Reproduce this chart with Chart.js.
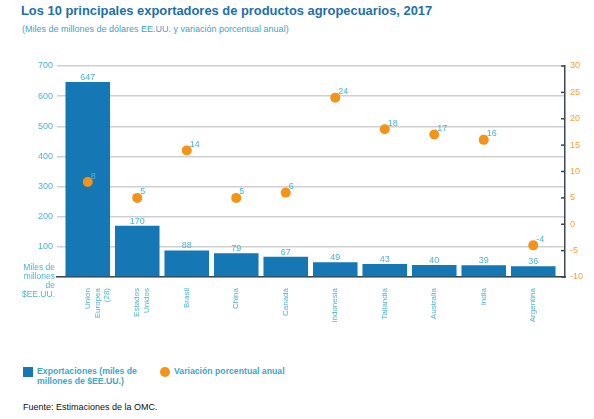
<!DOCTYPE html>
<html>
<head>
<meta charset="utf-8">
<script src="https://cdn.jsdelivr.net/npm/chart.js@4/dist/chart.umd.min.js"></script>
<style>
  body { margin: 0; width: 594px; height: 419px; background: #fff; font-family: "Liberation Sans", Arial, sans-serif; position: relative; overflow: hidden; }
  #title { position: absolute; left: 21px; top: 3px; font-size: 12.9px; font-weight: bold; color: #1b6fae; white-space: nowrap; }
  #sub { position: absolute; left: 22px; top: 24px; font-size: 9px; color: #3ea3c9; white-space: nowrap; }
  #wrap { position: absolute; left: 0; top: 50px; width: 594px; height: 280px; }
  .leg { position: absolute; font-size: 8.7px; font-weight: bold; color: #3aa7cb; line-height: 10px; }
  #src { position: absolute; left: 23px; top: 402px; font-size: 9px; color: #111; }
</style>
</head>
<body>
<div id="title">Los 10 principales exportadores de productos agropecuarios, 2017</div>
<div id="sub">(Miles de millones de dólares EE.UU. y variación porcentual anual)</div>
<div id="wrap"><canvas id="chart"></canvas></div>
<div style="position:absolute;left:23px;top:367px;width:10px;height:10px;background:#1577b4"></div>
<div class="leg" style="left:37px;top:366px">Exportaciones (miles de<br>millones de $EE.UU.)</div>
<div style="position:absolute;left:160px;top:367px;width:10px;height:10px;border-radius:50%;background:#f39419"></div>
<div class="leg" style="left:174px;top:366px">Variación porcentual anual</div>
<div id="src">Fuente: Estimaciones de la OMC.</div>
<script>
// categories and values
var countries = [["Unión", "Europea", "(28)"], ["Estados", "Unidos"], "Brasil", "China", "Canadá", "Indonesia", "Tailandia", "Australia", "India", "Argentina"];
var exports = [647, 170, 88, 79, 67, 49, 43, 40, 39, 36];
var change = [8, 5, 14, 5, 6, 24, 18, 17, 16, -4];
var unitLabel = ["Miles de", "millones", "de", "$EE.UU."];

var blue = '#1577b4';
var orange = '#f39419';
var lightBlue = '#4fb3d3';
var fontFam = '"Liberation Sans", Arial, sans-serif';

// the bars sit a little inside the gridlines on both sides
var insetPlugin = {
    id: 'inset',
    afterLayout: function(chart) {
        var x = chart.scales.x;
        x._startPixel += 6;
        x._endPixel -= 7;
        x._length = x._endPixel - x._startPixel;
    }
};

// value labels, unit label and the little ticks on the right axis
var labelsPlugin = {
    id: 'valueLabels',
    afterDatasetsDraw: function(chart) {
        var c = chart.ctx;
        c.save();
        c.font = '9px ' + fontFam;
        c.fillStyle = lightBlue;
        chart.getDatasetMeta(0).data.forEach(function(bar, i) {
            c.textAlign = 'center';
            c.textBaseline = 'alphabetic';
            c.fillText(exports[i], bar.x, bar.y - 2);
        });
        chart.getDatasetMeta(1).data.forEach(function(pt, i) {
            c.textAlign = 'left';
            c.textBaseline = 'middle';
            c.fillText(change[i], pt.x + 3, pt.y - 6);
        });
        c.font = '8.5px ' + fontFam;
        c.textAlign = 'right';
        c.textBaseline = 'middle';
        unitLabel.forEach(function(s, i) {
            c.fillText(s, 55, chart.chartArea.bottom - 9 + i * 9);
        });
        var r = chart.scales.y1;
        c.strokeStyle = '#3b4750';
        c.lineWidth = 1.5;
        r.ticks.forEach(function(t) {
            var y = r.getPixelForValue(t.value);
            c.beginPath();
            c.moveTo(chart.chartArea.right - 4, y);
            c.lineTo(chart.chartArea.right, y);
            c.stroke();
        });
        c.restore();
    }
};

var ctx = document.getElementById('chart').getContext('2d');
var chart = new Chart(ctx, {
    type: 'bar',
    data: {
        labels: countries,
        datasets: [{
            label: 'Exportaciones (miles de millones de $EE.UU.)',
            data: exports,
            backgroundColor: blue,
            yAxisID: 'y',
            barPercentage: 0.9,
            categoryPercentage: 1,
            order: 2
        }, {
            type: 'line',
            label: 'Variación porcentual anual',
            data: change,
            showLine: false,
            pointRadius: 5,
            pointHoverRadius: 5,
            pointBackgroundColor: orange,
            pointBorderWidth: 0,
            yAxisID: 'y1',
            order: 1
        }]
    },
    options: {
        responsive: true,
        maintainAspectRatio: false,
        animation: false,
        layout: { padding: { top: 16 } },
        plugins: {
            legend: { display: false },
            tooltip: { enabled: false }
        },
        scales: {
            x: {
                grid: { display: false },
                border: { display: true, color: '#3b4750', width: 1.5 },
                ticks: {
                    color: lightBlue,
                    font: { size: 8, family: fontFam },
                    maxRotation: 90,
                    minRotation: 90,
                    autoSkip: false,
                    padding: 3
                },
                afterFit: function(s) { s.height = 53; }
            },
            y: {
                position: 'left',
                min: 0,
                max: 700,
                grid: { color: '#d0d0d0', lineWidth: 1.5, drawTicks: false },
                border: { display: false },
                ticks: {
                    stepSize: 100,
                    autoSkip: false,
                    padding: 4,
                    color: lightBlue,
                    font: { size: 9, family: fontFam },
                    callback: function(v) { return v === 0 ? '' : v; }
                },
                afterFit: function(s) { s.width = 57; }
            },
            y1: {
                position: 'right',
                min: -10,
                max: 30,
                grid: { drawOnChartArea: false, drawTicks: false },
                border: { display: true, color: '#3b4750', width: 1.5 },
                ticks: {
                    stepSize: 5,
                    autoSkip: false,
                    padding: 5,
                    color: '#f5a03a',
                    font: { size: 9, family: fontFam }
                },
                afterFit: function(s) { s.width = 29; }
            }
        }
    },
    plugins: [insetPlugin, labelsPlugin]
});
</script>
</body>
</html>
